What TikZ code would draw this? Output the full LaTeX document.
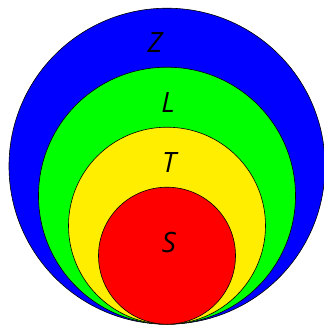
\documentclass[tikz,border=0pt]{standalone}
\usepackage{fontspec}
\setsansfont{Open Sans}
\usepackage{tikz}
\usetikzlibrary{positioning}
\definecolor{zBlue}{HTML}{0000FF}
\definecolor{lGreen}{HTML}{00FF00}
\definecolor{tYellow}{HTML}{FFEE00}
\definecolor{sRed}{HTML}{FF0000}
\begin{document}
\begin{tikzpicture}[x=1pt, y=1pt,
      set/.style={draw=black, line width=0.6pt, circle, inner sep=0pt, anchor=south},
      lab/.style={font=\fontsize{28}{30}\selectfont\sffamily\itshape, inner sep=0pt}]
    \useasboundingbox (0,0) rectangle (324,325);
    \coordinate (base) at (167,0.5);
    \node[set, fill=zBlue,   minimum size=316pt] (Zset) at (base) {};
    \node[set, fill=lGreen,  minimum size=257pt] (Lset) at (base) {};
    \node[set, fill=tYellow, minimum size=197pt] (Tset) at (base) {};
    \node[set, fill=sRed,    minimum size=137pt] (Sset) at (base) {};
    \node[lab] (Z) at (155,282) {Z};
    \node[lab] (L) at (168,222) {L};
    \node[lab] (T) at (169,162) {T};
    \node[lab] (S) at (169,83)  {S};
  \end{tikzpicture}
\end{document}
